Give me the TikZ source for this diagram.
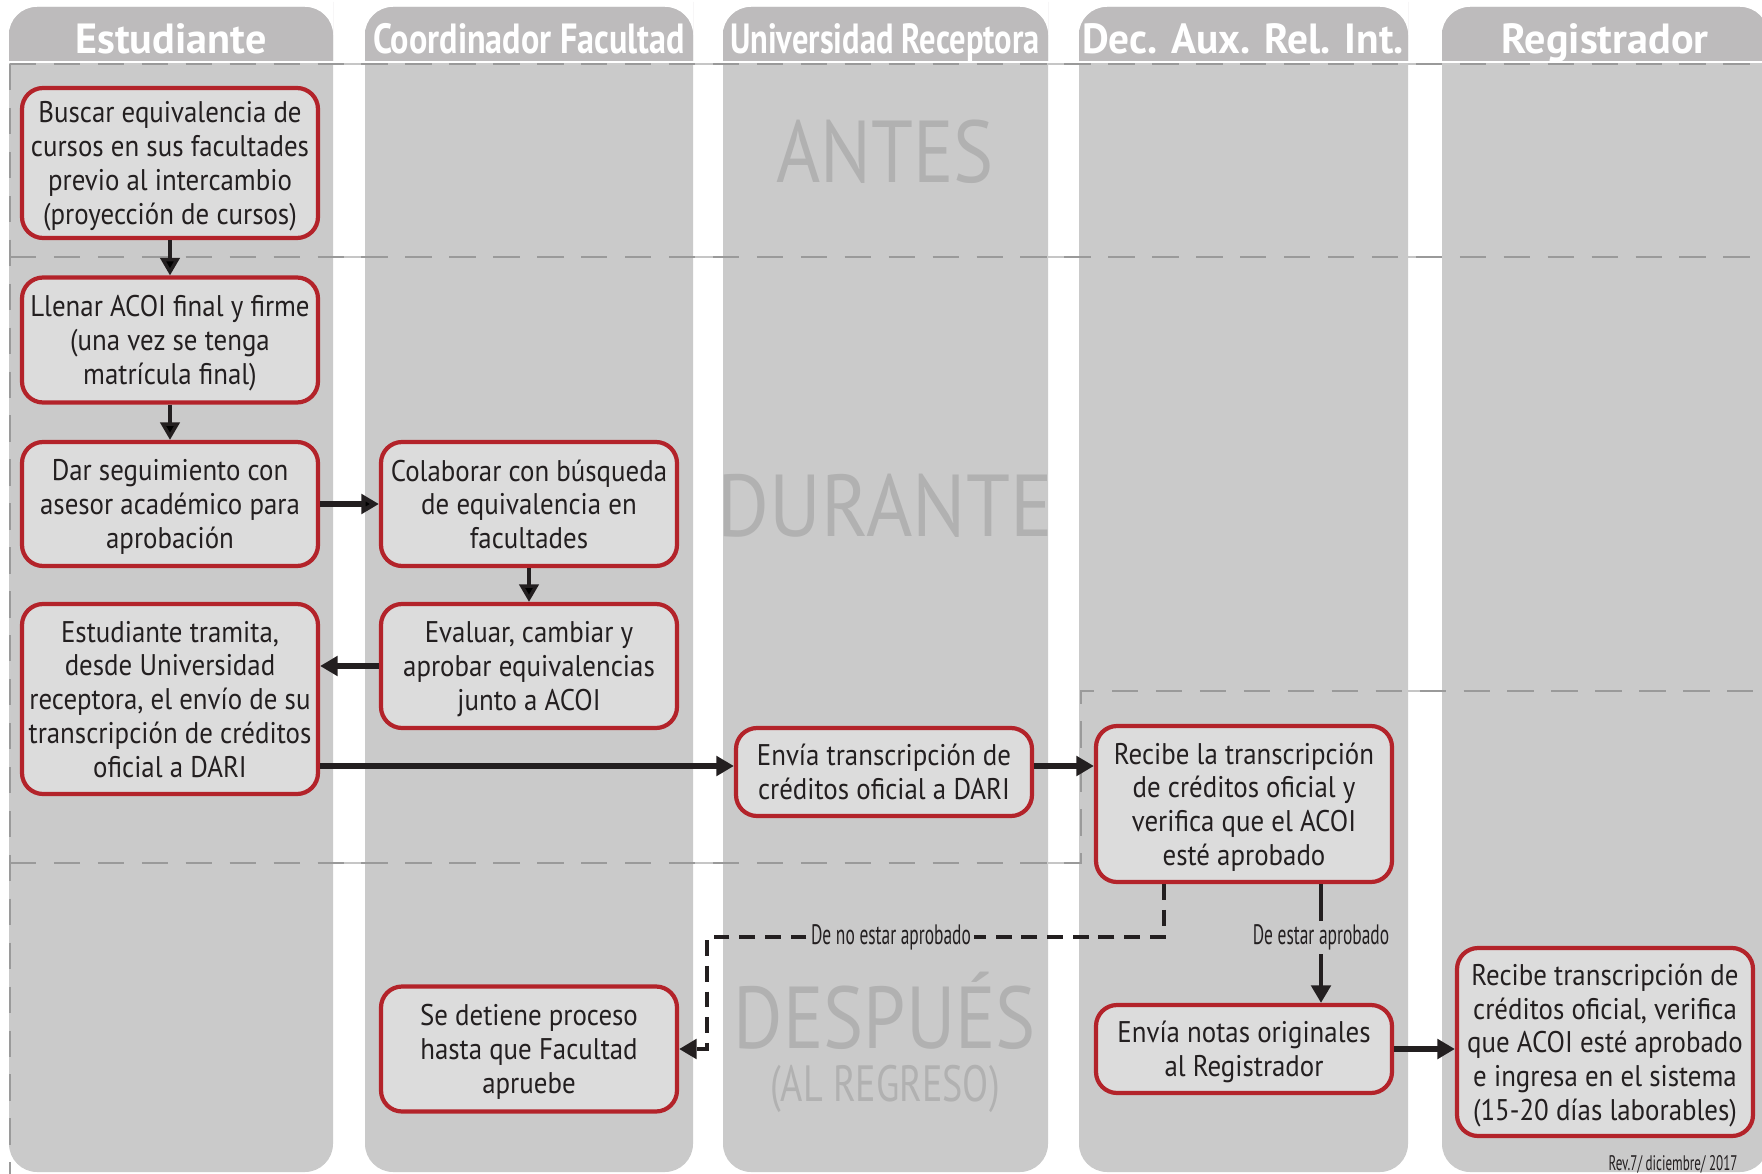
\documentclass[tikz,border=0pt]{standalone}
\usepackage{fontspec}
\setmainfont{PT Sans}[FakeStretch=0.9]
\newfontfamily\narrowfont{PT Sans}[FakeStretch=0.62]
\newfontfamily\headfont{PT Sans}
\newfontfamily\markfont{PT Sans}[FakeStretch=0.86]
\usepackage{tikz}
\usetikzlibrary{arrows,arrows.meta,shapes,positioning,calc}

\definecolor{lanegray}{HTML}{CACACA}
\definecolor{headgray}{HTML}{BDBBBC}
\definecolor{boxgray}{HTML}{DCDCDC}
\definecolor{boxred}{HTML}{B3232A}
\definecolor{markgray}{HTML}{B1B1B1}
\definecolor{dashgray}{HTML}{9A9A9A}
\definecolor{inkblack}{HTML}{231F20}

\begin{document}
\begin{tikzpicture}[x=0.1mm, y=-0.1mm,
	>={Triangle[length=5pt,width=5.5pt]},
	font=\fontsize{8.5}{9.6}\selectfont]

	\tikzstyle{stepbox}=[rectangle, rounded corners=6pt,
	draw=boxred, line width=1.2pt, fill=boxgray, text=inkblack,
	minimum width=29.6mm, align=center, inner sep=0.5mm, text depth=0pt]
	\tikzstyle{lanehead}=[text=white, anchor=base, font=\headfont\fontsize{12}{13}\selectfont\bfseries]
	\tikzstyle{watermark}=[text=markgray, anchor=base, inner sep=0pt, font=\markfont\fontsize{25}{26}\selectfont]
	\tikzstyle{thin arrow}=[->, line width=1pt, draw=inkblack]
	\tikzstyle{thick arrow}=[->, line width=1.7pt, draw=inkblack]
	\tikzstyle{cond}=[fill=lanegray, inner sep=1pt, text=inkblack, font=\narrowfont\fontsize{8}{9}\selectfont]
	\tikzstyle{region}=[dashgray, line width=0.75pt, dash pattern=on 7.5pt off 5pt]

	\useasboundingbox (0,0) rectangle (1762,1174);
	\clip (0,0) rectangle (1762,1174);

	%phase lines seen in the gaps
	\draw[gray!45, line width=0.4pt] (10,64) -- (1762,64);
	\draw[gray!45, line width=0.4pt] (10,257) -- (1762,257);
	\draw[gray!45, line width=0.4pt] (10,863) -- (1081,863);
	\draw[gray!45, line width=0.4pt] (1081,691) -- (1762,691);

	%lanes
	\fill[lanegray, rounded corners=8pt] (9,7) rectangle (333,1172);
	\fill[lanegray, rounded corners=8pt] (365,7) rectangle (693,1172);
	\fill[lanegray, rounded corners=8pt] (723,7) rectangle (1048,1172);
	\fill[lanegray, rounded corners=8pt] (1079,7) rectangle (1408,1172);
	\fill[lanegray, rounded corners=8pt] (1442,7) rectangle (1768,1172);

	\fill[headgray] (9,62) -- (9,30) [rounded corners=8pt] -- (9,7) -- (333,7) -- (333,30) [sharp corners] -- (333,62) -- cycle;
	\fill[headgray] (365,62) -- (365,30) [rounded corners=8pt] -- (365,7) -- (693,7) -- (693,30) [sharp corners] -- (693,62) -- cycle;
	\fill[headgray] (723,62) -- (723,30) [rounded corners=8pt] -- (723,7) -- (1048,7) -- (1048,30) [sharp corners] -- (1048,62) -- cycle;
	\fill[headgray] (1079,62) -- (1079,30) [rounded corners=8pt] -- (1079,7) -- (1408,7) -- (1408,30) [sharp corners] -- (1408,62) -- cycle;
	\fill[headgray] (1442,62) -- (1442,30) [rounded corners=8pt] -- (1442,7) -- (1768,7) -- (1768,30) [sharp corners] -- (1768,62) -- cycle;
	\draw[white, line width=0.6pt] (9,62) -- (1768,62);

	\node[lanehead] (hStudent) at (171,54) {Estudiante};
	\node[lanehead] (hCoord) at (529,54) {\scalebox{0.81}[1]{Coordinador Facultad}};
	\node[lanehead] (hHost) at (885,54) {\scalebox{0.77}[1]{Universidad Receptora}};
	\node[lanehead] (hDari) at (1243,54) {\scalebox{0.98}[1]{Dec. Aux. Rel. Int.}};
	\node[lanehead] (hReg) at (1605,54) {Registrador};

	%phases
	\draw[region] (10,64) -- (1762,64);
	\draw[region] (10,257) -- (1762,257);
	\draw[region] (10,64) -- (10,1174);
	\draw[region] (10,863) -- (1081,863) -- (1081,691) -- (1762,691);

	\node[watermark] (antes) at (885,183) {ANTES};
	\node[watermark] (durante) at (885,536) {\scalebox{1.05}[1]{DURANTE}};
	\node[watermark, align=center] (despues) at (885,1101)
	{DESPUÉS\\[-11pt]{\fontsize{14.5}{15}\selectfont\scalebox{0.87}[1]{(AL REGRESO)}}};

	%steps
	\node[stepbox, minimum height=15mm] (search) at (170,163)
	{Buscar equivalencia de\\cursos en sus facultades\\previo al intercambio\\(proyección de cursos)};

	\node[stepbox, minimum height=12.5mm] (fillout) at (170,340)
	{Llenar ACOI final y firme\\(una vez se tenga\\matrícula final)};

	\node[stepbox, minimum height=12.4mm] (follow) at (170,504)
	{Dar seguimiento con\\asesor académico para\\aprobación};

	\node[stepbox, minimum height=12.4mm] (collab) at (529,504)
	{Colaborar con búsqueda\\de equivalencia en\\facultades};

	\node[stepbox, minimum height=12.4mm] (evaluate) at (529,666)
	{Evaluar, cambiar y\\aprobar equivalencias\\junto a ACOI};

	\node[stepbox, minimum height=19mm] (request) at (170,699)
	{Estudiante tramita,\\desde Universidad\\receptora, el envío de su\\transcripción de créditos\\oficial a DARI};

	\node[stepbox, minimum height=8.8mm] (send) at (884,772)
	{Envía transcripción de\\créditos oficial a DARI};

	\node[stepbox, minimum height=15.6mm] (receive) at (1244,804)
	{Recibe la transcripción\\de créditos oficial y\\verifica que el ACOI\\esté aprobado};

	\node[stepbox, minimum height=8.8mm] (notes) at (1244,1049)
	{Envía notas originales\\al Registrador};

	\node[stepbox, minimum height=18.8mm] (record) at (1605,1042)
	{Recibe transcripción de\\créditos oficial, verifica\\que ACOI esté aprobado\\e ingresa en el sistema\\(15-20 días laborables)};

	\node[stepbox, minimum height=12.5mm] (halt) at (529,1049)
	{Se detiene proceso\\hasta que Facultad\\apruebe};

	%flow
	\path[thin arrow] (search) edge (fillout);
	\path[thin arrow] (fillout) edge (follow);
	\path[thick arrow] (follow) edge (collab);
	\path[thin arrow] (collab) edge (evaluate);

	\draw[thick arrow] (evaluate.west) -- (evaluate.west -| request.east);

	\coordinate (sendin) at ($(send.west)+(0,-6)$);
	\coordinate (sendout) at ($(send.east)+(0,-6)$);
	\draw[thick arrow] (request.east |- sendin) -- (sendin);
	\draw[thick arrow] (sendout) -- (sendout -| receive.west);
	\draw[thick arrow] (notes.east) -- (notes.east -| record.west);

	\coordinate (yesstart) at ($(receive.south)+(77,0)$);
	\draw[thin arrow, line width=1.2pt] (yesstart) -- (yesstart |- notes.north)
		node[cond, pos=0.45] (yeslbl) {De estar aprobado};

	\coordinate (nostart) at ($(receive.south)+(-80,0)$);
	\coordinate (nobend) at (707,937);
	\draw[->, draw=inkblack, line width=1.3pt, dash pattern=on 4.5pt off 2.8pt]
		(nostart) |- (nobend) |- (halt.east);
	\node[cond] (nolbl) at ($(nobend)+(184,0)$) {De no estar aprobado};

	\node[anchor=base east, text=inkblack, font=\narrowfont\fontsize{6}{7}\selectfont]
		(rev) at (1750,1170) {Rev.7/ diciembre/ 2017};

\end{tikzpicture}
\end{document}
